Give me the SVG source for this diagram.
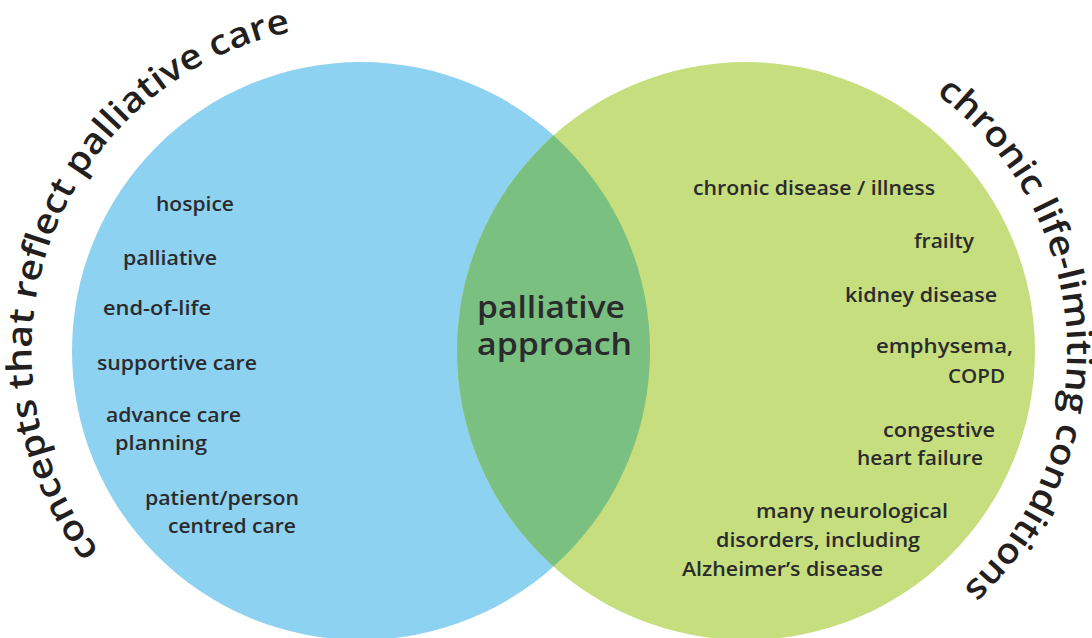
<svg xmlns="http://www.w3.org/2000/svg" width="1092" height="638" viewBox="0 0 1092 638">
  <style>
    .item { font-family: "Open Sans", "Liberation Sans", sans-serif; font-weight: 600; font-size: 20px; fill: #2b2b2d; }
    .core { font-family: "Open Sans", "Liberation Sans", sans-serif; font-weight: 600; font-size: 31px; fill: #2b2b2d; }
    .arc  { font-family: "Open Sans", "Liberation Sans", sans-serif; font-weight: 600; font-size: 35px; fill: #231f20; }
  </style>
  <defs>
    <clipPath id="blueClip">
      <circle cx="361" cy="351" r="289"/>
    </clipPath>
    <!-- baseline arcs for the curved titles, clockwise -->
    <path id="leftArc" d="M 99.3 551.1 A 327 327 0 0 1 300 30"/>
    <path id="rightArc" d="M 936 94 A 320 320 0 0 1 970 582"/>
  </defs>

  <rect width="1092" height="638" fill="#ffffff"/>

  <g id="palliative-care-concepts">
    <circle cx="361" cy="351" r="289" fill="#8ed2f1"/>
    <text class="arc"><textPath href="#leftArc" textLength="660" lengthAdjust="spacingAndGlyphs">concepts that reflect palliative care</textPath></text>
    <text class="item" x="156" y="211" textLength="78" lengthAdjust="spacingAndGlyphs">hospice</text>
    <text class="item" x="123" y="265" textLength="94" lengthAdjust="spacingAndGlyphs">palliative</text>
    <text class="item" x="103" y="315" textLength="108" lengthAdjust="spacingAndGlyphs">end-of-life</text>
    <text class="item" x="97" y="370" textLength="160" lengthAdjust="spacingAndGlyphs">supportive care</text>
    <text class="item" x="106" y="422" textLength="135" lengthAdjust="spacingAndGlyphs">advance care</text>
    <text class="item" x="115" y="450" textLength="92" lengthAdjust="spacingAndGlyphs">planning</text>
    <text class="item" x="145" y="505" textLength="154" lengthAdjust="spacingAndGlyphs">patient/person</text>
    <text class="item" x="168" y="533" textLength="128" lengthAdjust="spacingAndGlyphs">centred care</text>
  </g>

  <g id="chronic-conditions">
    <circle cx="746" cy="351" r="289" fill="#c6de7d"/>
    <text class="arc"><textPath href="#rightArc" textLength="566" lengthAdjust="spacingAndGlyphs">chronic life-limiting conditions</textPath></text>
    <text class="item" x="693" y="195" textLength="242" lengthAdjust="spacingAndGlyphs">chronic disease / illness</text>
    <text class="item" x="914" y="248" textLength="60" lengthAdjust="spacingAndGlyphs">frailty</text>
    <text class="item" x="845" y="302" textLength="152" lengthAdjust="spacingAndGlyphs">kidney disease</text>
    <text class="item" x="876" y="353" textLength="137" lengthAdjust="spacingAndGlyphs">emphysema,</text>
    <text class="item" x="948" y="383" textLength="57" lengthAdjust="spacingAndGlyphs">COPD</text>
    <text class="item" x="883" y="437" textLength="112" lengthAdjust="spacingAndGlyphs">congestive</text>
    <text class="item" x="857" y="465" textLength="126" lengthAdjust="spacingAndGlyphs">heart failure</text>
    <text class="item" x="756" y="518" textLength="192" lengthAdjust="spacingAndGlyphs">many neurological</text>
    <text class="item" x="716" y="547" textLength="204" lengthAdjust="spacingAndGlyphs">disorders, including</text>
    <text class="item" x="682" y="576" textLength="201" lengthAdjust="spacingAndGlyphs">Alzheimer’s disease</text>
  </g>

  <g id="palliative-approach">
    <circle cx="746" cy="351" r="289" fill="#79c081" clip-path="url(#blueClip)"/>
    <text class="core" x="477" y="318" textLength="148" lengthAdjust="spacingAndGlyphs">palliative</text>
    <text class="core" x="477" y="355" textLength="155" lengthAdjust="spacingAndGlyphs">approach</text>
  </g>
</svg>
